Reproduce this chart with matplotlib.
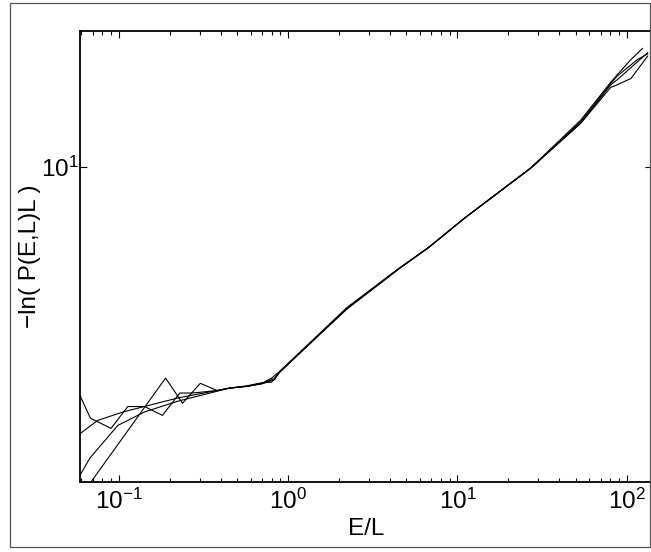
import matplotlib.pyplot as plt
import matplotlib.ticker as mticker
from matplotlib.patches import Rectangle

plt.rcParams['font.family'] = ['Liberation Sans', 'DejaVu Sans']
plt.rcParams['mathtext.default'] = 'regular'

# four curves, E/L vs -ln(P(E,L)L)
e1 = [0.059, 0.068, 0.090, 0.113, 0.142, 0.181, 0.229, 0.272, 0.382, 0.45, 0.574, 0.70, 0.83, 0.885,
      2.22, 4.5, 6.75, 11.1, 27.2, 53.6, 80.5, 94.7, 106, 124]
y1 = [3.11, 2.77, 2.63, 2.94, 2.94, 2.81, 3.15, 3.15, 3.19, 3.23, 3.26, 3.31, 3.39, 3.50,
      4.85, 5.94, 6.62, 7.71, 9.95, 12.7, 15.4, 16.5, 17.3, 18.3]

e2 = [0.059, 0.189, 0.238, 0.303, 0.382, 0.45, 0.574, 0.70, 0.83, 0.885,
      2.22, 4.5, 6.75, 11.1, 27.2, 53.6, 80.5, 88, 116, 133]
y2 = [1.85, 3.40, 2.99, 3.31, 3.19, 3.23, 3.26, 3.30, 3.37, 3.49,
      4.85, 5.94, 6.62, 7.71, 9.95, 12.6, 15.3, 15.9, 17.3, 17.8]

e3 = [0.059, 0.0752, 0.106, 0.222, 0.45, 0.574, 0.70, 0.80, 0.885,
      2.22, 4.5, 6.75, 11.1, 27.2, 53.6, 80.5, 88, 106, 133]
y3 = [2.56, 2.74, 2.86, 3.07, 3.23, 3.27, 3.32, 3.33, 3.50,
      4.83, 5.93, 6.62, 7.71, 9.95, 12.5, 15.2, 15.6, 16.6, 17.9]

e4 = [0.059, 0.0675, 0.0987, 0.142, 0.222, 0.45, 0.574, 0.70, 0.80, 0.885,
      2.22, 4.5, 6.75, 11.1, 27.2, 53.6, 80.5, 88, 106, 133]
y4 = [2.07, 2.26, 2.67, 2.86, 3.02, 3.23, 3.26, 3.31, 3.40, 3.51,
      4.87, 5.95, 6.62, 7.71, 9.93, 12.5, 15.0, 15.2, 15.7, 17.6]

fig = plt.figure(figsize=(6.51, 5.52), dpi=100)
ax = fig.add_axes([80 / 651, 1 - 482 / 552, 572 / 651, 451 / 552])

for e, y in [(e1, y1), (e2, y2), (e3, y3), (e4, y4)]:
    ax.plot(e, y, color='black', lw=0.8)

ax.set_xscale('log')
ax.set_yscale('log')
ax.set_xlim(0.059, 141)
ax.set_ylim(2, 20)
ax.yaxis.set_major_locator(mticker.FixedLocator([10]))
ax.yaxis.set_minor_locator(mticker.NullLocator())
ax.yaxis.set_major_formatter(mticker.LogFormatterSciNotation())

ax.tick_params(which='both', direction='in', top=True, right=True, labelsize=17.5, width=0.8)
ax.tick_params(which='major', length=5)
ax.tick_params(axis='x', which='major', pad=5)
ax.tick_params(axis='y', which='major', pad=1)
ax.tick_params(which='minor', length=3)
for s in ax.spines.values():
    s.set_linewidth(1.3)

ax.set_xlabel('E/L', fontsize=17.5, labelpad=3)
ax.set_ylabel('\u2212ln( P(E,L)L )', fontsize=17.5, labelpad=0)

# outer frame of the figure
fig.patches.append(Rectangle((10 / 651, 1 - 547 / 552), 640 / 651, 544 / 552,
                             transform=fig.transFigure, fill=False,
                             edgecolor='#555555', lw=0.9))

fig.savefig('out.png', dpi=100)
